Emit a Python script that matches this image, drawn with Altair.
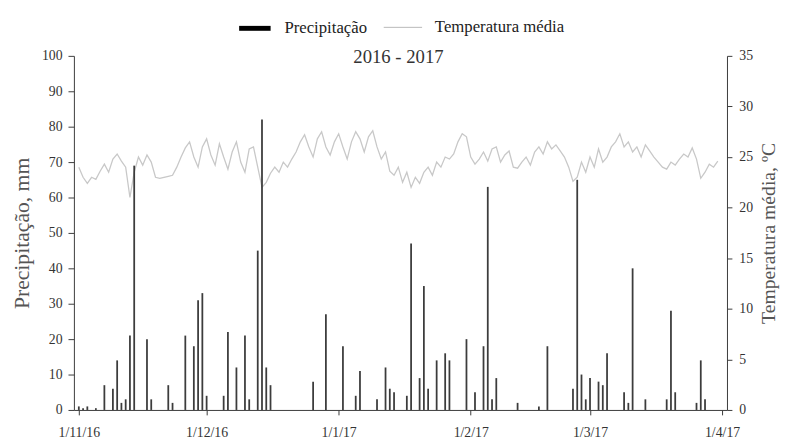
import altair as alt
import pandas as pd

# ---------------- data ----------------
start_date = "2016-11-01"

# day offset from 1 Nov 2016 and daily precipitation (mm)
precip_day = [0, 1, 2, 4, 6, 8, 9, 10, 11, 12, 13, 16, 17, 21, 22, 25, 27, 28, 29, 30,
              34, 35, 37, 39, 40, 42, 43, 44, 45, 55, 58, 62, 65, 66, 70, 72, 73, 74,
              77, 78, 80, 81, 82, 84, 86, 87, 91, 93, 95, 96, 97, 98, 103, 108, 110,
              116, 117, 118, 119, 120, 122, 123, 124, 128, 129, 130, 133, 138, 139,
              140, 145, 146, 147]
precip_mm = [1, 0.5, 1, 0.5, 7, 6, 14, 2, 3, 21, 69, 20, 3, 7, 2, 21, 18, 31, 33, 4,
             4, 22, 12, 21, 3, 45, 82, 12, 7, 8, 27, 18, 4, 11, 3, 12, 6, 5,
             4, 47, 9, 35, 6, 14, 16, 14, 20, 5, 18, 63, 3, 9, 2, 1, 18,
             6, 65, 10, 3, 9, 8, 7, 16, 5, 2, 40, 3, 3, 28,
             5, 2, 14, 3]

# daily mean temperature (ºC), 1 Nov 2016 .. 31 Mar 2017
temp_c = [
    24.0, 23.0, 22.4, 23.0, 22.8, 23.6, 24.3, 23.5, 24.8, 25.3,
    24.6, 24.0, 21.0, 23.5, 25.0, 24.2, 25.2, 24.5, 23.0, 22.9,
    23.0, 23.1, 23.2, 24.0, 25.0, 25.9, 26.5, 25.0, 24.0, 26.0,
    26.8, 25.2, 24.2, 26.3, 25.0, 23.8, 25.5, 26.5, 24.5, 23.5,
    25.8, 26.0, 24.0, 22.0, 22.5, 23.4, 24.0, 23.5, 24.5, 24.0,
    24.8, 25.5, 26.5, 27.2, 26.0, 25.0, 26.8, 27.5, 26.0, 25.2,
    26.5, 27.3, 26.0, 24.8, 26.5, 27.5, 26.8, 25.5, 27.0, 27.6,
    26.0, 24.8, 25.5, 23.6, 23.2, 24.0, 22.5, 23.5, 22.0, 23.0,
    22.4, 23.5, 24.0, 23.2, 24.5, 24.0, 25.0, 24.8, 25.3, 26.5,
    27.3, 27.0, 25.0, 24.3, 24.8, 25.5, 24.6, 25.8, 26.0, 24.5,
    25.2, 25.6, 24.0, 23.9, 24.5, 25.0, 24.2, 25.5, 26.0, 25.3,
    26.5, 25.8, 26.2, 25.6, 25.0, 24.0, 22.6, 23.0, 24.5, 23.5,
    25.0, 24.0, 25.8, 24.5, 25.0, 26.0, 26.5, 27.3, 26.0, 26.5,
    25.5, 26.0, 25.0, 26.2, 25.6, 25.0, 24.5, 24.0, 23.8, 24.5,
    24.2, 24.8, 25.3, 25.0, 25.9, 24.8, 22.9, 23.5, 24.3, 24.0,
    24.6,
]

month_ticks = ["2016-11-01", "2016-12-01", "2017-01-01", "2017-02-01", "2017-03-01", "2017-04-01"]
legend_labels = ["Precipitação", "Temperatura média"]
title_text = "2016 - 2017"

# ---------------- tables ----------------
t0 = pd.Timestamp(start_date)
precip_df = pd.DataFrame({
    "date": [(t0 + pd.Timedelta(days=d)).strftime("%Y-%m-%d") for d in precip_day],
    "mm": precip_mm,
})
temp_df = pd.DataFrame({
    "date": [(t0 + pd.Timedelta(days=i)).strftime("%Y-%m-%d") for i in range(len(temp_c))],
    "t": temp_c,
})


def dt(s):
    y, m, d = (int(v) for v in s.split("-"))
    return alt.DateTime(year=y, month=m, date=d, utc=True)


FONT = "Liberation Serif"
AX = "#3a3a3a"

x_enc = alt.X(
    "date:T",
    scale=alt.Scale(type="utc", domain=[dt(month_ticks[0]), dt(month_ticks[-1])]),
    axis=alt.Axis(
        values=[dt(s) for s in month_ticks],
        format="%-d/%-m/%y",
        title=None,
        grid=False,
        tickSize=5,
        labelPadding=11,
        labelFontSize=14,
        domainColor=AX,
        tickColor=AX,
        labelColor="#333",
    ),
)

bars = alt.Chart(precip_df).mark_bar(size=1.8, color="#3c3c3c").encode(
    x=x_enc,
    y=alt.Y(
        "mm:Q",
        scale=alt.Scale(domain=[0, 100]),
        axis=alt.Axis(
            values=list(range(0, 101, 10)),
            title="Precipitação, mm",
            grid=False,
            tickSize=6,
            labelPadding=6,
            titlePadding=8,
            labelFontSize=14,
            titleFontSize=22,
            titleFontWeight="normal",
            titleColor="#555",
            labelColor="#333",
            domainColor=AX,
            tickColor=AX,
        ),
    ),
)

line = alt.Chart(temp_df).mark_line(color="#c8c8c8", strokeWidth=1.3).encode(
    x=alt.X("date:T"),
    y=alt.Y(
        "t:Q",
        scale=alt.Scale(domain=[0, 35]),
        axis=alt.Axis(
            orient="right",
            values=list(range(0, 36, 5)),
            title="Temperatura média, ºC",
            titleAngle=270,
            titleBaseline="top",
            grid=False,
            tickSize=5,
            labelPadding=7,
            titlePadding=6,
            labelFontSize=14,
            titleFontSize=20,
            titleFontWeight="normal",
            titleColor="#555",
            labelColor="#333",
            domainColor=AX,
            tickColor=AX,
        ),
    ),
)

one = pd.DataFrame({"k": [0]})

leg_bar = alt.Chart(one).mark_rule(color="black", strokeWidth=5).encode(
    x=alt.value(168), x2=alt.value(200), y=alt.value(-28)
)
leg_bar_txt = alt.Chart(one).mark_text(
    font=FONT, fontSize=17, align="left", baseline="middle", color="#222"
).encode(x=alt.value(214), y=alt.value(-28), text=alt.value(legend_labels[0]))
leg_line = alt.Chart(one).mark_rule(color="#b8b8b8", strokeWidth=1).encode(
    x=alt.value(315), x2=alt.value(354), y=alt.value(-29)
)
leg_line_txt = alt.Chart(one).mark_text(
    font=FONT, fontSize=17, align="left", baseline="middle", color="#222"
).encode(x=alt.value(367), y=alt.value(-29), text=alt.value(legend_labels[1]))
title_mark = alt.Chart(one).mark_text(
    font=FONT, fontSize=19, align="center", baseline="middle", color="#333"
).encode(x=alt.value(330), y=alt.value(1), text=alt.value(title_text))

chart = (
    alt.layer(line, bars, leg_bar, leg_bar_txt, leg_line, leg_line_txt, title_mark)
    .resolve_scale(y="independent")
    .properties(
        width=664,
        height=360,
        autosize=alt.AutoSizeParams(type="none"),
        padding={"left": 67, "top": 45, "right": 60, "bottom": 35},
    )
    .configure(font=FONT)
    .configure_view(stroke=None)
    .configure_axis(labelFont=FONT, titleFont=FONT)
)

chart.save("out.html", embed_options={"renderer": "svg", "actions": False})
